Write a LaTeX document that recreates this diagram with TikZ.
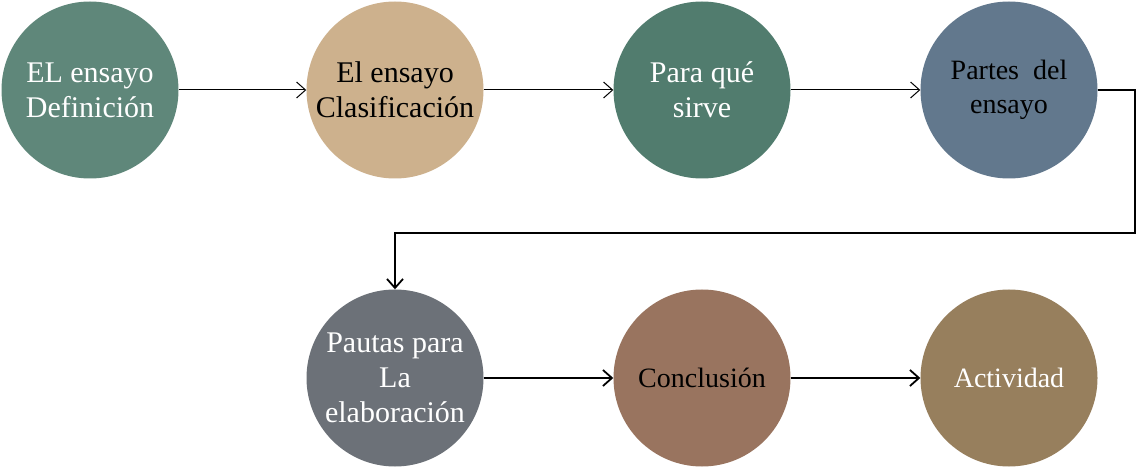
\documentclass[tikz,border=0pt]{standalone}
\usepackage{fontspec}
\setmainfont{Liberation Serif}
\usetikzlibrary{arrows.meta}
\definecolor{cA}{HTML}{5F877A}
\definecolor{cB}{HTML}{CDB18D}
\definecolor{cC}{HTML}{517C6E}
\definecolor{cD}{HTML}{62788D}
\definecolor{cE}{HTML}{6C7178}
\definecolor{cF}{HTML}{99745F}
\definecolor{cG}{HTML}{977F5D}
\tikzset{
  blob/.style={circle, minimum size=177pt, inner sep=0pt, draw=none, align=center},
  bigtext/.style={font=\fontsize{30}{35}\selectfont},
  smalltext/.style={font=\fontsize{28}{34}\selectfont},
  thinarr/.style={-{Straight Barb[length=9pt,width=16pt,line width=1pt]}, line width=1pt},
  thickarr/.style={-{Straight Barb[length=9pt,width=16pt,line width=1.8pt]}, line width=1.8pt},
}
\begin{document}
\begin{tikzpicture}[x=1pt,y=1pt]
\useasboundingbox (0,0) rectangle (1137,466);
\node[blob, bigtext, fill=cA, text=white] (c1) at (90,376) {EL ensayo\\Definición};
\node[blob, bigtext, fill=cB, text=black] (c2) at (395,376) {El ensayo\\Clasificación};
\node[blob, bigtext, fill=cC, text=white] (c3) at (702,376) {Para qué\\sirve};
\node[blob, smalltext, fill=cD, text=black] (c4) at (1009,376) {Partes\ \ del\\ensayo};
\node[blob, bigtext, fill=cE, text=white] (c5) at (395,88) {Pautas para\\La\\elaboración};
\node[blob, smalltext, fill=cF, text=black] (c6) at (702,88) {Conclusión};
\node[blob, smalltext, fill=cG, text=white] (c7) at (1009,88) {Actividad};
\coordinate (k1) at (1135,376);
\coordinate (k2) at (1135,233);
\draw[thinarr] (c1) -- (c2);
\draw[thinarr] (c2) -- (c3);
\draw[thinarr] (c3) -- (c4);
\draw[thickarr] (c4.east) -- (k1) -- (k2) -| (c5.north);
\draw[thickarr] (c5) -- (c6);
\draw[thickarr] (c6) -- (c7);
\end{tikzpicture}
\end{document}
